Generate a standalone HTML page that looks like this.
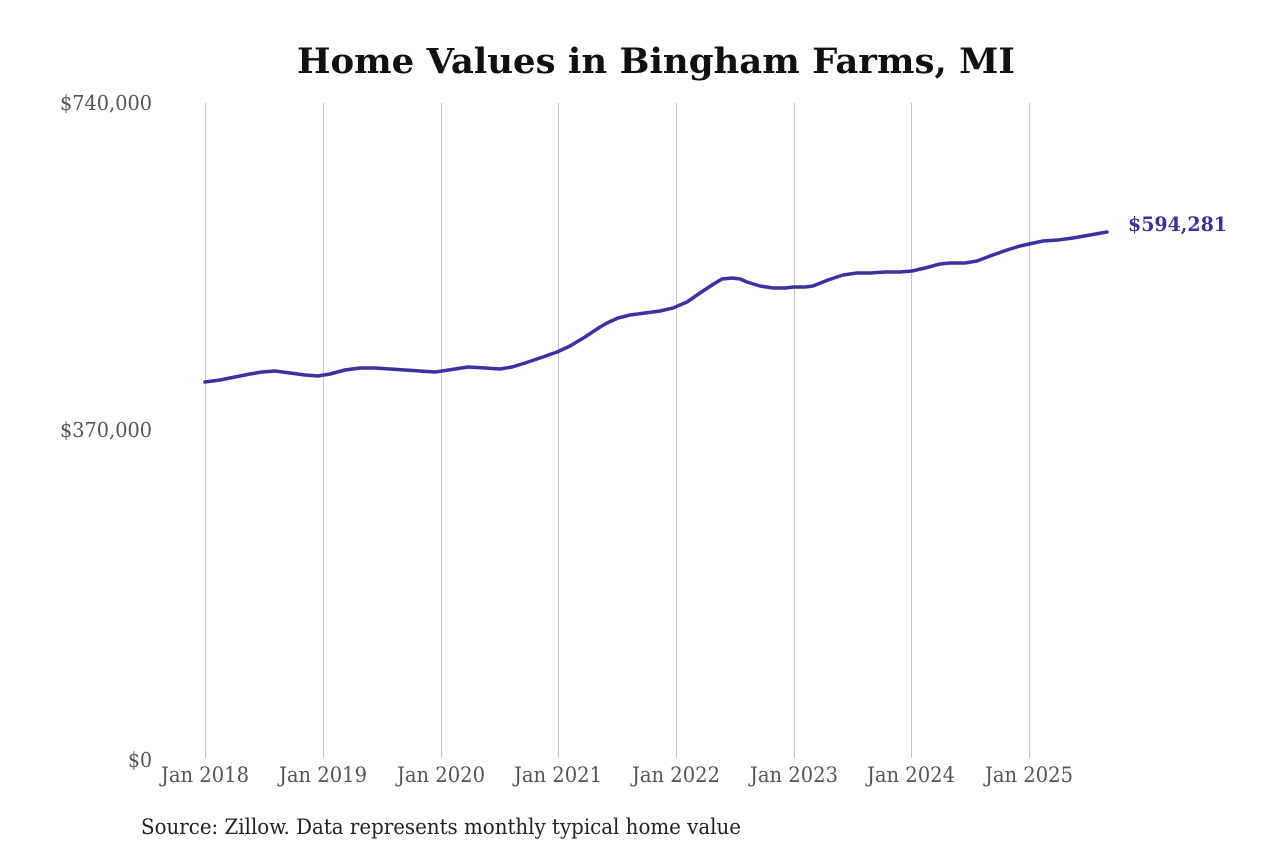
<!DOCTYPE html>
<html>
<head>
<meta charset="utf-8">
<style>
  html,body{margin:0;padding:0;background:#fff;}
  svg{display:block;}
  text{font-family:"DejaVu Serif Condensed","DejaVu Serif","Liberation Serif",serif;}
</style>
</head>
<body>
<svg width="1280" height="853" viewBox="0 0 1280 853" xmlns="http://www.w3.org/2000/svg">
  <rect width="1280" height="853" fill="#fff"/>
  <text x="656" y="73" text-anchor="middle" font-size="35" font-weight="bold" fill="#111" textLength="718" lengthAdjust="spacingAndGlyphs" style="font-family:'DejaVu Serif',serif">Home Values in Bingham Farms, MI</text>

  <g stroke="#c4c4c4" stroke-width="1">
    <line x1="205.5" y1="103" x2="205.5" y2="758"/>
    <line x1="323.5" y1="103" x2="323.5" y2="758"/>
    <line x1="441.5" y1="103" x2="441.5" y2="758"/>
    <line x1="558.5" y1="103" x2="558.5" y2="758"/>
    <line x1="676.5" y1="103" x2="676.5" y2="758"/>
    <line x1="794.5" y1="103" x2="794.5" y2="758"/>
    <line x1="911.5" y1="103" x2="911.5" y2="758"/>
    <line x1="1029.5" y1="103" x2="1029.5" y2="758"/>
  </g>

  <g font-size="20.5" fill="#555" text-anchor="end">
    <text x="152" y="110" textLength="92" lengthAdjust="spacingAndGlyphs">$740,000</text>
    <text x="152" y="437" textLength="92" lengthAdjust="spacingAndGlyphs">$370,000</text>
    <text x="152" y="767" textLength="24" lengthAdjust="spacingAndGlyphs">$0</text>
  </g>

  <g font-size="21.5" fill="#555" text-anchor="middle">
    <text x="205" y="782" textLength="88" lengthAdjust="spacingAndGlyphs">Jan 2018</text>
    <text x="323" y="782" textLength="88" lengthAdjust="spacingAndGlyphs">Jan 2019</text>
    <text x="441" y="782" textLength="88" lengthAdjust="spacingAndGlyphs">Jan 2020</text>
    <text x="558" y="782" textLength="88" lengthAdjust="spacingAndGlyphs">Jan 2021</text>
    <text x="676" y="782" textLength="88" lengthAdjust="spacingAndGlyphs">Jan 2022</text>
    <text x="794" y="782" textLength="88" lengthAdjust="spacingAndGlyphs">Jan 2023</text>
    <text x="911" y="782" textLength="88" lengthAdjust="spacingAndGlyphs">Jan 2024</text>
    <text x="1029" y="782" textLength="88" lengthAdjust="spacingAndGlyphs">Jan 2025</text>
  </g>

  <polyline fill="none" stroke="#3a32a0" stroke-width="3.5" stroke-linejoin="round" stroke-linecap="round"
    points="205,382 220,380 235,377 250,374 262,372 275,371 290,373 305,375 318,376 330,374 345,370 360,368 375,368 390,369 405,370 420,371 435,372 442,371 455,369 468,367 485,368 500,369 512,367 525,363 540,358 557,352 570,346 585,337 600,327 607,323 618,318 630,315 645,313 660,311 673,308 687,302 700,293 712,285 722,279 732,278 740,279 747,282 760,286 773,288 785,288 794,287 805,287 813,286 828,280 843,275 857,273 870,273 885,272 900,272 912,271 925,268 940,264 950,263 965,263 977,261 990,256 1007,250 1020,246 1029,244 1043,241 1058,240 1073,238 1090,235 1107,232"/>

  <text x="1128" y="231" font-size="20" font-weight="bold" fill="#3a3391" textLength="99" lengthAdjust="spacingAndGlyphs" style="font-family:'DejaVu Serif',serif">$594,281</text>

  <text x="141" y="834" font-size="21" fill="#222" textLength="600" lengthAdjust="spacingAndGlyphs">Source: Zillow. Data represents monthly typical home value</text>
</svg>
</body>
</html>
